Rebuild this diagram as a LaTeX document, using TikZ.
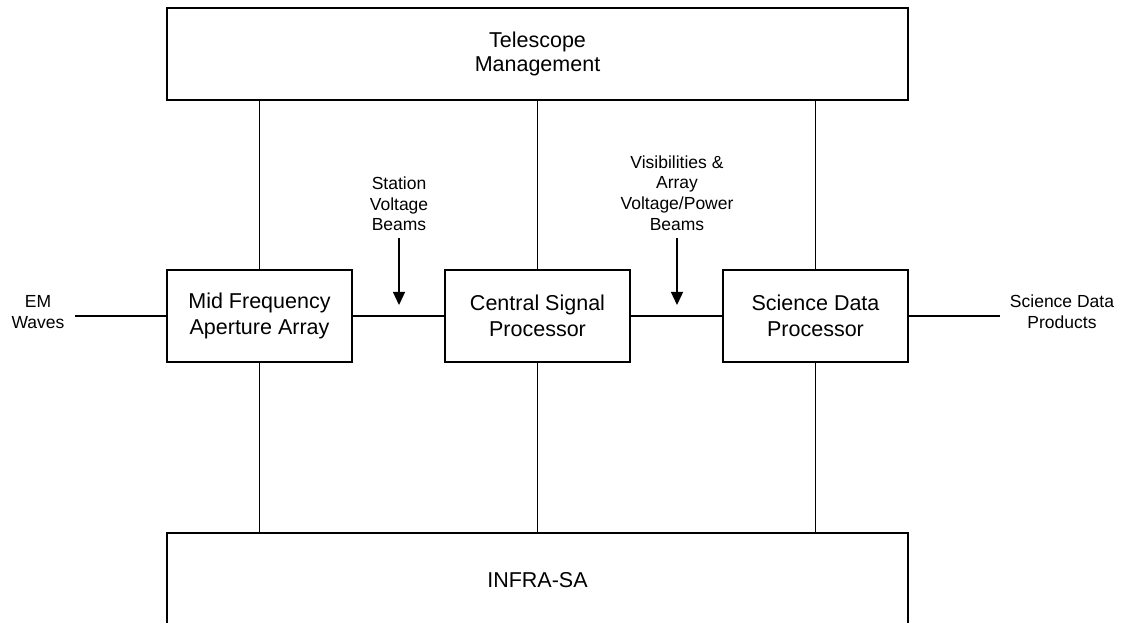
\documentclass[tikz,border=0pt]{standalone}
\usepackage{fontspec}
\setmainfont{Liberation Sans}
\usetikzlibrary{arrows.meta}
\begin{document}
\begin{tikzpicture}[x=1pt,y=1pt,
  block/.style={draw=black,line width=1.5pt,fill=white,align=center,inner sep=0pt,
    font=\fontsize{21.5}{26}\selectfont},
  wide/.style={block,minimum width=741pt,minimum height=92pt},
  unit/.style={block,minimum width=185pt,minimum height=92pt},
  link/.style={line width=1.3pt},
  lbl/.style={align=center,inner sep=0pt,font=\fontsize{17.5}{20.6}\selectfont},
  flow/.style={line width=1.3pt,-{Triangle[width=12pt,length=13pt]}}]
\clip (0,0) rectangle (1129,623);

% subsystem blocks
\node[wide,font=\fontsize{21.5}{24}\selectfont] (tm) at (537.5,569) {Telescope\\Management};
\node[unit] (mfaa) at (259.5,307) {Mid Frequency\\Aperture Array};
\node[unit] (csp) at (537.5,307) {Central Signal\\Processor};
\node[unit] (sdp) at (815.5,307) {Science Data\\Processor};
\node[wide,minimum height=94pt] (infra) at (537.5,43) {INFRA-SA};

% external inputs and outputs
\node[lbl] (em) at (38,311) {EM\\Waves};
\node[lbl] (sdprod) at (1062,311) {Science Data\\Products};
\coordinate (emend) at (75,307);
\coordinate (sdpend) at (1000,307);

% data-flow labels
\node[lbl] (svb) at (399,419) {Station\\Voltage\\Beams};
\node[lbl] (vis) at (677,430) {Visibilities \&\\Array\\Voltage/Power\\Beams};
\coordinate (svbtop) at (399,385);
\coordinate (svbtip) at (399,318);
\coordinate (vistop) at (677,385);
\coordinate (vistip) at (677,318);

% connections to management and infrastructure
\foreach \b in {mfaa,csp,sdp}{
  \draw[link] (\b.north) -- (tm.south -| \b.north);
  \draw[link] (\b.south) -- (infra.north -| \b.south);
}

% signal chain
\draw[link] (emend) -- (mfaa.west);
\draw[link] (mfaa.east) -- (csp.west);
\draw[link] (csp.east) -- (sdp.west);
\draw[link] (sdp.east) -- (sdpend);

\draw[flow] (svbtop) -- (svbtip);
\draw[flow] (vistop) -- (vistip);
\end{tikzpicture}
\end{document}
